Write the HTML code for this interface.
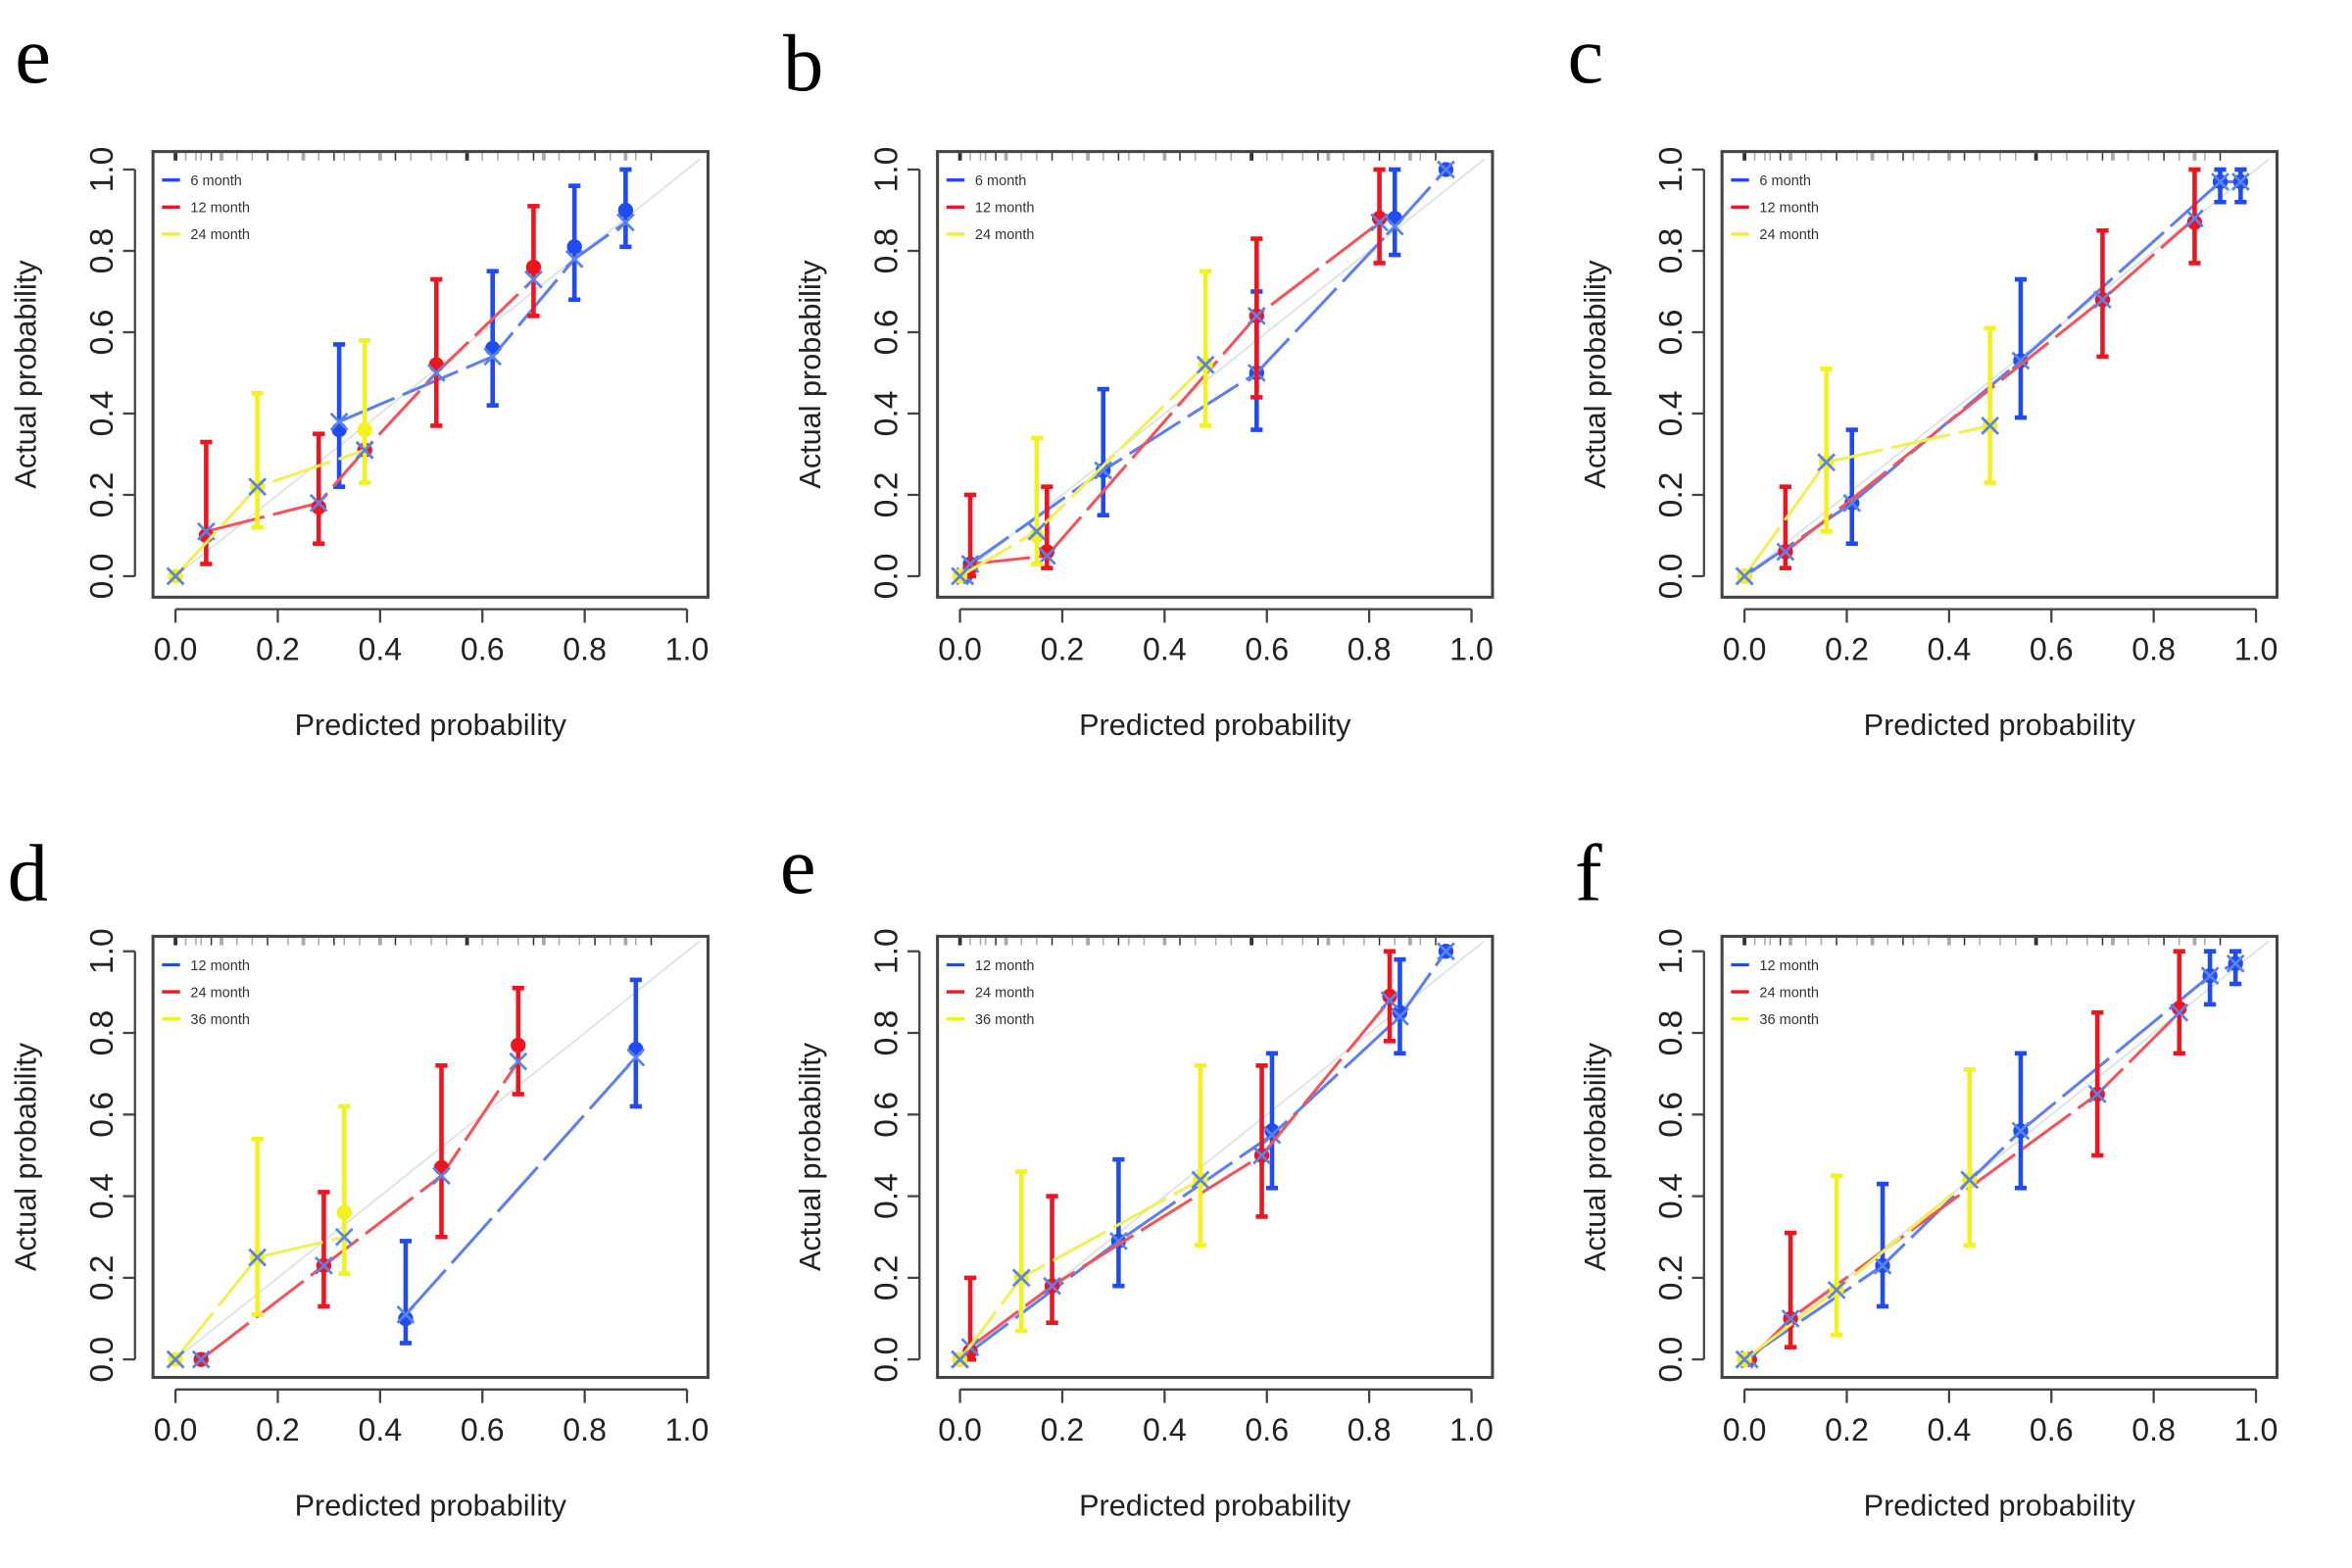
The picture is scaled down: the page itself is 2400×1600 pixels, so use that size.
<!DOCTYPE html>
<html><head><meta charset="utf-8">
<style>
html,body{margin:0;padding:0;background:#fff;}
svg{display:block;}
</style></head>
<body>
<svg id="fig" width="2400" height="1600" viewBox="0 0 1568 1045" preserveAspectRatio="none" xmlns="http://www.w3.org/2000/svg" font-family="Liberation Sans, sans-serif"></svg>
<script>
// ---- data (per panel, per series) ----
const panelLetters = ["e","b","c","d","e","f"];
const legendTop = ["6 month","12 month","24 month"];
const legendBottom = ["12 month","24 month","36 month"];
const tickValues = [0,0.2,0.4,0.6,0.8,1.0];
const tickLabels = ["0.0","0.2","0.4","0.6","0.8","1.0"];

// panel a
const aBlueX=[0.32,0.62,0.78,0.88], aBlueY=[0.36,0.56,0.81,0.90], aBlueLo=[0.22,0.42,0.68,0.81], aBlueHi=[0.57,0.75,0.96,1.0], aBlueM=[0.38,0.54,0.78,0.87];
const aRedX=[0.06,0.28,0.37,0.51,0.70], aRedY=[0.10,0.17,0.31,0.52,0.76], aRedLo=[0.03,0.08,null,0.37,0.64], aRedHi=[0.33,0.35,null,0.73,0.91], aRedM=[0.11,0.18,0.31,0.50,0.73];
const aYelX=[0.0,0.16,0.37], aYelY=[0.0,0.22,0.36], aYelLo=[null,0.12,0.23], aYelHi=[null,0.45,0.58], aYelM=[0.0,0.22,0.31];
// panel b
const bBlueX=[0.01,0.02,0.28,0.58,0.85,0.95], bBlueY=[0.0,0.03,0.26,0.50,0.88,1.0], bBlueLo=[null,null,0.15,0.36,0.79,null], bBlueHi=[null,null,0.46,0.70,1.0,null], bBlueM=[0.0,0.03,0.26,0.50,0.86,1.0];
const bRedX=[0.02,0.17,0.58,0.82], bRedY=[0.02,0.06,0.64,0.88], bRedLo=[0.0,0.02,0.44,0.77], bRedHi=[0.20,0.22,0.83,1.0], bRedM=[0.03,0.05,0.64,0.87];
const bYelX=[0.0,0.15,0.48], bYelY=[0.0,0.10,0.52], bYelLo=[null,0.03,0.37], bYelHi=[null,0.34,0.75], bYelM=[0.0,0.11,0.52];
// panel c
const cBlueX=[0.0,0.21,0.54,0.93,0.97], cBlueY=[0.0,0.18,0.53,0.97,0.97], cBlueLo=[null,0.08,0.39,0.92,0.92], cBlueHi=[null,0.36,0.73,1.0,1.0], cBlueM=[0.0,0.18,0.53,0.97,0.97];
const cRedX=[0.08,0.70,0.88], cRedY=[0.06,0.68,0.87], cRedLo=[0.02,0.54,0.77], cRedHi=[0.22,0.85,1.0], cRedM=[0.06,0.68,0.88];
const cYelX=[0.0,0.16,0.48], cYelY=[0.0,0.28,0.37], cYelLo=[null,0.11,0.23], cYelHi=[null,0.51,0.61], cYelM=[0.0,0.28,0.37];
// panel d
const dBlueX=[0.45,0.90], dBlueY=[0.10,0.76], dBlueLo=[0.04,0.62], dBlueHi=[0.29,0.93], dBlueM=[0.11,0.74];
const dRedX=[0.05,0.29,0.52,0.67], dRedY=[0.0,0.23,0.47,0.77], dRedLo=[null,0.13,0.30,0.65], dRedHi=[null,0.41,0.72,0.91], dRedM=[0.0,0.23,0.45,0.73];
const dYelX=[0.0,0.16,0.33], dYelY=[0.0,0.25,0.36], dYelLo=[null,0.11,0.21], dYelHi=[null,0.54,0.62], dYelM=[0.0,0.25,0.30];
// panel e
const eBlueX=[0.0,0.31,0.61,0.86,0.95], eBlueY=[0.0,0.29,0.56,0.85,1.0], eBlueLo=[null,0.18,0.42,0.75,null], eBlueHi=[null,0.49,0.75,0.98,null], eBlueM=[0.0,0.29,0.55,0.84,1.0];
const eRedX=[0.02,0.18,0.59,0.84], eRedY=[0.02,0.18,0.50,0.89], eRedLo=[0.0,0.09,0.35,0.78], eRedHi=[0.20,0.40,0.72,1.0], eRedM=[0.03,0.18,0.50,0.88];
const eYelX=[0.0,0.12,0.47], eYelY=[0.0,0.20,0.44], eYelLo=[null,0.07,0.28], eYelHi=[null,0.46,0.72], eYelM=[0.0,0.20,0.44];
// panel f
const fBlueX=[0.0,0.27,0.54,0.91,0.96], fBlueY=[0.0,0.23,0.56,0.94,0.97], fBlueLo=[null,0.13,0.42,0.87,0.92], fBlueHi=[null,0.43,0.75,1.0,1.0], fBlueM=[0.0,0.23,0.56,0.94,0.97];
const fRedX=[0.01,0.09,0.69,0.85], fRedY=[0.0,0.10,0.65,0.86], fRedLo=[null,0.03,0.50,0.75], fRedHi=[null,0.31,0.85,1.0], fRedM=[0.0,0.10,0.65,0.85];
const fYelX=[0.0,0.18,0.44], fYelY=[0.0,0.17,0.44], fYelLo=[null,0.06,0.28], fYelHi=[null,0.45,0.71], fYelM=[0.0,0.17,0.44];

const panelsData = [
 [[aBlueX,aBlueY,aBlueLo,aBlueHi,aBlueM],[aRedX,aRedY,aRedLo,aRedHi,aRedM],[aYelX,aYelY,aYelLo,aYelHi,aYelM]],
 [[bBlueX,bBlueY,bBlueLo,bBlueHi,bBlueM],[bRedX,bRedY,bRedLo,bRedHi,bRedM],[bYelX,bYelY,bYelLo,bYelHi,bYelM]],
 [[cBlueX,cBlueY,cBlueLo,cBlueHi,cBlueM],[cRedX,cRedY,cRedLo,cRedHi,cRedM],[cYelX,cYelY,cYelLo,cYelHi,cYelM]],
 [[dBlueX,dBlueY,dBlueLo,dBlueHi,dBlueM],[dRedX,dRedY,dRedLo,dRedHi,dRedM],[dYelX,dYelY,dYelLo,dYelHi,dYelM]],
 [[eBlueX,eBlueY,eBlueLo,eBlueHi,eBlueM],[eRedX,eRedY,eRedLo,eRedHi,eRedM],[eYelX,eYelY,eYelLo,eYelHi,eYelM]],
 [[fBlueX,fBlueY,fBlueLo,fBlueHi,fBlueM],[fRedX,fRedY,fRedLo,fRedHi,fRedM],[fYelX,fYelY,fYelLo,fYelHi,fYelM]]
];
const rugValues = [0.0,0.02,0.04,0.05,0.07,0.09,0.12,0.15,0.18,0.22,0.25,0.28,0.31,0.33,0.36,0.4,0.43,0.46,0.5,0.53,0.57,0.6,0.63,0.67,0.7,0.72,0.75,0.79,0.82,0.85,0.88,0.9,0.93];

const NS="http://www.w3.org/2000/svg";
const svg=document.getElementById('fig');
function el(tag,attrs,parent){const e=document.createElementNS(NS,tag);for(const k in attrs)e.setAttribute(k,attrs[k]);(parent||svg).appendChild(e);return e;}

const dotCol=["#1f4cf2","#f0141e","#f2f21e"];
const lineCol=["#5d7ff2","#f2545a","#f0f055"];
const seriesNames=["blue","red","yellow"];
const letterPos=[[10,55],[522,60],[1045,55],[5,600],[520,595],[1050,600]];

for(let p=0;p<6;p++){
  const col=p%3,row=Math.floor(p/3);
  const dx=col*523;
  const boxL=102+dx,boxR=472+dx;
  const boxT=row?624:101, boxB=row?918:398;
  const X0=117+dx, XS=341;
  const Y0=row?906:384, YS=row?272:271;
  const sx=v=>X0+v*XS, sy=v=>Y0-v*YS;
  const g=el('g',{});
  
  

  const lt=el('text',{x:letterPos[p][0],y:letterPos[p][1],'font-size':54,style:'font-family:"Liberation Serif",serif',fill:'#000'},g);
  lt.textContent=panelLetters[p];
  
  

  const dg=el('line',{x1:sx(0),y1:sy(0),x2:sx(1.025),y2:sy(1.025),stroke:'#dde2e4','stroke-width':1.2},g);
  
  

  const rg=el('g',{},g);
  
  
  rugValues.forEach((v,i)=>{el('line',{x1:sx(v),y1:boxT+1,x2:sx(v),y2:boxT+6,stroke:i%4==0?'#333':'#aaa','stroke-width':i%5==0?2.5:1},rg);});

  const bx=el('rect',{x:boxL,y:boxT,width:boxR-boxL,height:boxB-boxT,fill:'none',stroke:'#444','stroke-width':2},g);
  
  

  const ya=el('g',{},g);
  
  
  el('line',{x1:90+dx,y1:sy(0),x2:90+dx,y2:sy(1),stroke:'#444','stroke-width':1.5},ya);
  tickValues.forEach((v,i)=>{
    el('line',{x1:82+dx,y1:sy(v),x2:90+dx,y2:sy(v),stroke:'#444','stroke-width':1.5},ya);
    const t=el('text',{x:0,y:0,'font-size':22,'text-anchor':'middle',fill:'#222',transform:'translate('+(75+dx)+','+sy(v)+') rotate(-90)'},ya);
    t.textContent=tickLabels[i];
  });
  const yt=el('text',{x:0,y:0,'font-size':20,'text-anchor':'middle',fill:'#222',transform:'translate('+(24+dx)+','+((boxT+boxB)/2)+') rotate(-90)'},g);
  yt.textContent='Actual probability';
  
  

  const xa=el('g',{},g);
  
  
  const axY=boxB+8;
  el('line',{x1:sx(0),y1:axY,x2:sx(1),y2:axY,stroke:'#444','stroke-width':1.5},xa);
  tickValues.forEach((v,i)=>{
    el('line',{x1:sx(v),y1:axY,x2:sx(v),y2:axY+9,stroke:'#444','stroke-width':1.5},xa);
    const t=el('text',{x:sx(v),y:boxB+42,'font-size':21,'text-anchor':'middle',fill:'#222'},xa);
    t.textContent=tickLabels[i];
  });
  const xt=el('text',{x:(boxL+boxR)/2,y:boxB+92,'font-size':20,'text-anchor':'middle',fill:'#222'},g);
  xt.textContent='Predicted probability';
  
  

  const lg=el('g',{},g);
  
  
  const labs=row?legendBottom:legendTop;
  labs.forEach((s,i)=>{
    const ly=boxT+19+i*18;
    el('line',{x1:boxL+6,y1:ly,x2:boxL+18,y2:ly,stroke:dotCol[i],'stroke-width':2.2},lg);
    const t=el('text',{x:boxL+25,y:ly+3.5,'font-size':9.5,fill:'#333'},lg);
    t.textContent=s;
  });

  panelsData[p].forEach((ser,si)=>{
    const [xs,ys,los,his,ms]=ser;
    const sg=el('g',{},g);
    
    
    const pts=xs.map((x,i)=>sx(x)+','+sy(ms[i])).join(' ');
    el('polyline',{points:pts,fill:'none',stroke:lineCol[si],'stroke-width':2,'stroke-dasharray':'40 6'},sg);
    xs.forEach((x,i)=>{
      if(los[i]!==null&&his[i]!==null){
        const eb=el('g',{},sg);
        
        
        el('line',{x1:sx(x),y1:sy(los[i]),x2:sx(x),y2:sy(his[i]),stroke:dotCol[si],'stroke-width':3},eb);
        el('line',{x1:sx(x)-4,y1:sy(los[i]),x2:sx(x)+4,y2:sy(los[i]),stroke:dotCol[si],'stroke-width':3},eb);
        el('line',{x1:sx(x)-4,y1:sy(his[i]),x2:sx(x)+4,y2:sy(his[i]),stroke:dotCol[si],'stroke-width':3},eb);
      }
      const c=el('circle',{cx:sx(x),cy:sy(ys[i]),r:5,fill:dotCol[si]},sg);
      
      
      const mx=sx(x),my=sy(ms[i]),d=5.5;
      const xm=el('path',{d:`M${mx-d},${my-d}L${mx+d},${my+d}M${mx-d},${my+d}L${mx+d},${my-d}`,stroke:'#5a82e8','stroke-width':1.8,fill:'none'},sg);
      
      
    });
  });
}
</script>
</body></html>
